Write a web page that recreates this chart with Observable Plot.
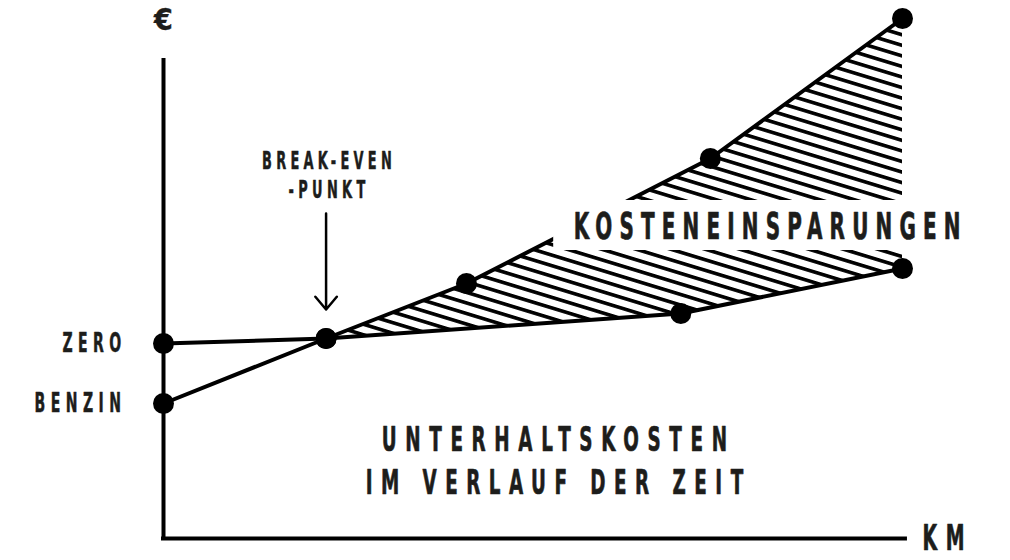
<!DOCTYPE html>
<html>
<head>
<meta charset="utf-8">
<script src="https://cdn.jsdelivr.net/npm/d3@7"></script>
<script src="https://cdn.jsdelivr.net/npm/@observablehq/plot@0.6"></script>
<style>
  html, body { margin: 0; padding: 0; background: #fff; }
  #chart svg { display: block; }
</style>
</head>
<body>
<div id="chart"></div>
<script>
// ---- data (arbitrary units) ----
const benzinKm   = [0, 22, 41, 74, 100];
const benzinCost = [27, 40, 51, 76, 104];
const zeroKm     = [0, 22, 70, 100];
const zeroCost   = [39, 40, 45, 54];
const breakEvenKm = 22;
const seriesNames = ["ZERO", "BENZIN"];
const axisLabels = { y: "€", x: "KM" };
const breakEvenLabel = ["BREAK-EVEN", "-PUNKT"];
const savingsLabel = "KOSTENEINSPARUNGEN";
const titleLines = ["UNTERHALTSKOSTEN", "IM VERLAUF DER ZEIT"];

// ---- derived tables ----
const benzin = benzinKm.map((km, i) => ({km, cost: benzinCost[i]}));
const zero = zeroKm.map((km, i) => ({km, cost: zeroCost[i]}));
const interp = (xs, ys, x) => {
  for (let i = 0; i < xs.length - 1; i++) {
    if (x >= xs[i] && x <= xs[i + 1]) return ys[i] + (ys[i + 1] - ys[i]) * (x - xs[i]) / (xs[i + 1] - xs[i]);
  }
  return ys[ys.length - 1];
};
const savingKms = Array.from(new Set([...benzinKm, ...zeroKm])).filter(k => k >= breakEvenKm).sort((a, b) => a - b);
const savings = savingKms.map(km => ({km, top: interp(benzinKm, benzinCost, km), bottom: interp(zeroKm, zeroCost, km)}));
const breakEven = [{km: breakEvenKm, cost: interp(zeroKm, zeroCost, breakEvenKm)}];

const FONT = "'Liberation Sans Narrow', 'DejaVu Sans Condensed', 'DejaVu Sans', sans-serif";
const INK = "#1d1d1b";
const SX = 0.6; // horizontal squeeze of lettering

// label layout: position (data coords), cap size, ink width w and letter gap g (px)
const labels = [
  {text: axisLabels.y,      x: 0,     y: 103.6, size: 30, anchor: "middle"},
  {text: breakEvenLabel[0], x: 22,    y: 75.4,  size: 24, w: 128, g: 6,  anchor: "middle"},
  {text: breakEvenLabel[1], x: 22,    y: 69.6,  size: 24, w: 75,  g: 6,  anchor: "middle"},
  {text: seriesNames[0],    x: 0,     y: zeroCost[0],   size: 26, w: 57, g: 7, anchor: "end", dx: -44},
  {text: seriesNames[1],    x: 0,     y: benzinCost[0], size: 26, w: 85, g: 7, anchor: "end", dx: -44},
  {text: savingsLabel,      x: 55.5,  y: 62.2,  size: 37, w: 384, g: 10, anchor: "start"},
  {text: titleLines[0],     x: 53.2,  y: 19.6,  size: 34, w: 344, g: 10, anchor: "middle", dx: -3},
  {text: titleLines[1],     x: 53.2,  y: 11,    size: 34, w: 376, g: 10, anchor: "middle", dx: -3},
  {text: axisLabels.x,      x: 102.7, y: 0,     size: 35, w: 41,  g: 10, anchor: "start"}
];
const savingsBox = {x1: 52.8, x2: 109, y1: 57.6, y2: 67.6};
const arrowSpan = {y1: 65, y2: 45.8};

const shiftFor = l => (l.dx || 0) + (l.g ? (l.anchor === "end" ? l.g : l.anchor === "middle" ? l.g / 2 : 0) : 0);

const marks = [
  Plot.areaY(savings, {x: "km", y1: "bottom", y2: "top", fill: "url(#hatch)"}),
  Plot.ruleX([0], {y1: 0, y2: 95.6, stroke: "#000", strokeWidth: 4, strokeLinecap: "square"}),
  Plot.ruleY([0], {x1: 0, x2: 100.4, stroke: "#000", strokeWidth: 4, strokeLinecap: "square"}),
  Plot.line(zero, {x: "km", y: "cost", stroke: "#000", strokeWidth: 4}),
  Plot.line(benzin, {x: "km", y: "cost", stroke: "#000", strokeWidth: 4}),
  Plot.rect([savingsBox], {x1: "x1", x2: "x2", y1: "y1", y2: "y2", fill: "#fff"}),
  Plot.arrow(breakEven, {x1: "km", x2: "km", y1: () => arrowSpan.y1, y2: () => arrowSpan.y2, stroke: "#000", strokeWidth: 2.5, headLength: 10, headAngle: 80}),
  Plot.dot(zero, {x: "km", y: "cost", r: 10.5, fill: "#000"}),
  Plot.dot(benzin, {x: "km", y: "cost", r: 10.5, fill: "#000"}),
  ...labels.map(l => Plot.text([l], {
    x: "x", y: "y", text: "text", textAnchor: l.anchor, dx: shiftFor(l),
    fontSize: l.size, fontFamily: FONT, fontWeight: "bold", fill: INK,
    stroke: INK, strokeWidth: l.w ? l.size * 0.02 : 0.4
  }))
];

const chart = Plot.plot({
  width: 1010,
  height: 560,
  x: {domain: [0, 100], range: [163, 902], axis: null},
  y: {domain: [0, 104], range: [538, 18], axis: null},
  style: {background: "#fff", overflow: "visible"},
  marks
});
document.getElementById("chart").appendChild(chart);

const svg = chart.tagName.toLowerCase() === "svg" ? chart : chart.querySelector("svg");
// hatch pattern
const defs = d3.select(svg).insert("defs", ":first-child");
const pat = defs.append("pattern")
  .attr("id", "hatch")
  .attr("patternUnits", "userSpaceOnUse")
  .attr("width", 40).attr("height", 10.1)
  .attr("patternTransform", "rotate(17)");
pat.append("rect").attr("x", 0).attr("y", 0).attr("width", 40).attr("height", 3.6).attr("fill", "#000");

// condensed, widely spaced lettering via textLength (positions untouched)
const groups = svg.querySelectorAll('g[aria-label="text"]');
groups.forEach((grp, i) => {
  const l = labels[i];
  if (!l || !l.w) return;
  grp.querySelectorAll("text").forEach(el => {
    const n = [...l.text].length;
    const total = l.w + l.g;                 // ink width plus trailing gap
    const natural = el.getComputedTextLength();
    const ls = Math.max(0, (total / SX - natural) / n);
    el.style.letterSpacing = ls + "px";
    el.setAttribute("textLength", total);
    el.setAttribute("lengthAdjust", "spacingAndGlyphs");
  });
});
</script>
</body>
</html>
